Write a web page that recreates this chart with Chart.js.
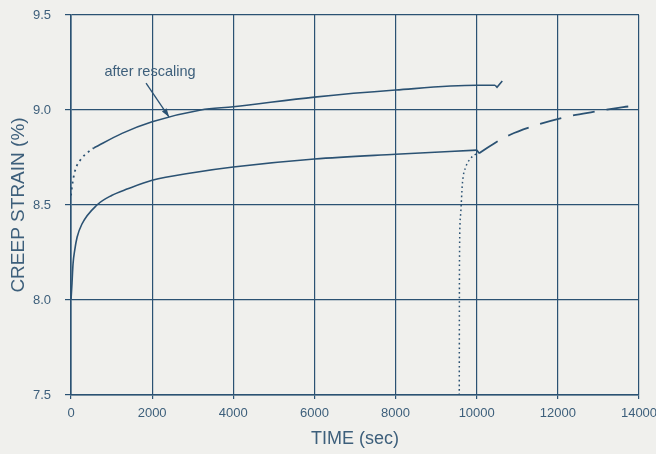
<!DOCTYPE html>
<html>
<head>
<meta charset="utf-8">
<title>Creep strain vs time</title>
<script src="https://cdn.jsdelivr.net/npm/chart.js@4/dist/chart.umd.min.js"></script>
<style>
  html, body { margin: 0; padding: 0; background: #f0f0ed; }
  #wrap { width: 656px; height: 454px; }
</style>
</head>
<body>
<div id="wrap"><canvas id="c" width="656" height="454"></canvas></div>
<script>
// Time (sec) and creep strain (%) for each curve segment
const lowerTime   = [0, 25, 50, 90, 150, 270, 640, 1000, 1400, 2000, 3000, 4000, 6000, 8000, 10000];
const lowerStrain = [8.0, 8.09, 8.19, 8.26, 8.33, 8.40, 8.50, 8.55, 8.585, 8.63, 8.67, 8.70, 8.742, 8.767, 8.789];

const reloadTime   = [9570, 9575, 9600, 9650, 9730, 9850, 9980, 10060];
const reloadStrain = [7.5, 8.2, 8.44, 8.62, 8.70, 8.745, 8.768, 8.772];

const hookLowTime   = [10000, 10060];
const hookLowStrain = [8.789, 8.772];

const extTime   = [10060, 10530, 10825, 11320, 12130, 12870, 13610, 14000];
const extStrain = [8.772, 8.837, 8.87, 8.91, 8.96, 8.99, 9.015, 9.025];

const rescaledEarlyTime   = [0, 30, 105, 230, 395, 560];
const rescaledEarlyStrain = [8.55, 8.605, 8.684, 8.737, 8.774, 8.80];

const rescaledTime   = [560, 1258, 2000, 3200, 4000, 6000, 8000, 10000, 10455];
const rescaledStrain = [8.80, 8.877, 8.938, 9.0, 9.017, 9.068, 9.105, 9.13, 9.13];

const hookUpTime   = [10455, 10500, 10630];
const hookUpStrain = [9.13, 9.12, 9.153];

const xTicks = [0, 2000, 4000, 6000, 8000, 10000, 12000, 14000];
const yTicks = [7.5, 8.0, 8.5, 9.0, 9.5];

// Callout: label anchor and arrow (tail -> head) in data units
const calloutText = 'after rescaling';
const calloutAt   = [1948, 9.2];
const arrowTail   = [1850, 9.142];
const arrowHead   = [2417, 8.963];

const INK = '#2b5273';
const TEXT = '#3d5f7b';
const FONT = "'Liberation Sans', Arial, sans-serif";

const pts = (xs, ys) => xs.map((x, i) => ({ x, y: ys[i] }));

function series(xs, ys, extra) {
  return Object.assign({
    data: pts(xs, ys),
    borderColor: INK,
    borderWidth: 1.6,
    pointRadius: 0,
    fill: false,
    cubicInterpolationMode: 'monotone'
  }, extra || {});
}

const calloutPlugin = {
  id: 'callout',
  afterDatasetsDraw(chart) {
    const { ctx, scales: { x, y } } = chart;
    ctx.save();
    ctx.fillStyle = TEXT;
    ctx.font = '14.5px ' + FONT;
    ctx.textAlign = 'center';
    ctx.textBaseline = 'middle';
    ctx.fillText(calloutText, x.getPixelForValue(calloutAt[0]), y.getPixelForValue(calloutAt[1]));

    const x0 = x.getPixelForValue(arrowTail[0]), y0 = y.getPixelForValue(arrowTail[1]);
    const x1 = x.getPixelForValue(arrowHead[0]), y1 = y.getPixelForValue(arrowHead[1]);
    ctx.strokeStyle = INK;
    ctx.lineWidth = 1.3;
    ctx.beginPath();
    ctx.moveTo(x0, y0);
    ctx.lineTo(x1, y1);
    ctx.stroke();
    const a = Math.atan2(y1 - y0, x1 - x0), L = 9, w = 0.32;
    ctx.fillStyle = INK;
    ctx.beginPath();
    ctx.moveTo(x1, y1);
    ctx.lineTo(x1 - L * Math.cos(a - w), y1 - L * Math.sin(a - w));
    ctx.lineTo(x1 - L * Math.cos(a + w), y1 - L * Math.sin(a + w));
    ctx.closePath();
    ctx.fill();
    ctx.restore();
  }
};

new Chart(document.getElementById('c'), {
  type: 'line',
  data: {
    datasets: [
      series(lowerTime, lowerStrain),
      series(reloadTime, reloadStrain, { borderDash: [1.6, 3], borderWidth: 1.5 }),
      series(hookLowTime, hookLowStrain, { cubicInterpolationMode: 'default', tension: 0 }),
      series(extTime, extStrain, { borderDash: [22, 12], borderWidth: 1.8 }),
      series(rescaledEarlyTime, rescaledEarlyStrain, { borderDash: [2, 4], borderWidth: 1.8 }),
      series(rescaledTime, rescaledStrain),
      series(hookUpTime, hookUpStrain, { cubicInterpolationMode: 'default', tension: 0 })
    ]
  },
  options: {
    responsive: false,
    animation: false,
    layout: { padding: { top: 15, right: 17, left: 0, bottom: 0 } },
    plugins: { legend: { display: false }, tooltip: { enabled: false } },
    scales: {
      x: {
        type: 'linear',
        min: 0, max: 14000,
        afterBuildTicks(s) { s.ticks = xTicks.map(v => ({ value: v })); },
        afterFit(s) { s.height = 59; s.paddingLeft = 0; s.paddingRight = 0; },
        ticks: { color: TEXT, font: { family: FONT, size: 13 }, padding: 7, maxRotation: 0, callback: v => String(v) },
        grid: { color: INK, lineWidth: 1.2, tickLength: 4 },
        border: { color: INK, width: 1.6 },
        title: { display: true, text: 'TIME (sec)', color: TEXT, font: { family: FONT, size: 18 }, padding: { top: 2, bottom: 4 } }
      },
      y: {
        type: 'linear',
        min: 7.5, max: 9.5,
        afterBuildTicks(s) { s.ticks = yTicks.map(v => ({ value: v })); },
        afterFit(s) { s.width = 71; s.paddingTop = 0; s.paddingBottom = 0; },
        ticks: { color: TEXT, font: { family: FONT, size: 13 }, padding: 14, callback: v => v.toFixed(1) },
        grid: { color: INK, lineWidth: 1.2, tickLength: 6 },
        border: { color: INK, width: 1.6 },
        title: { display: true, text: 'CREEP STRAIN (%)', color: TEXT, font: { family: FONT, size: 19 }, padding: { top: 7, bottom: 0 } }
      }
    }
  },
  plugins: [calloutPlugin]
});
</script>
</body>
</html>
